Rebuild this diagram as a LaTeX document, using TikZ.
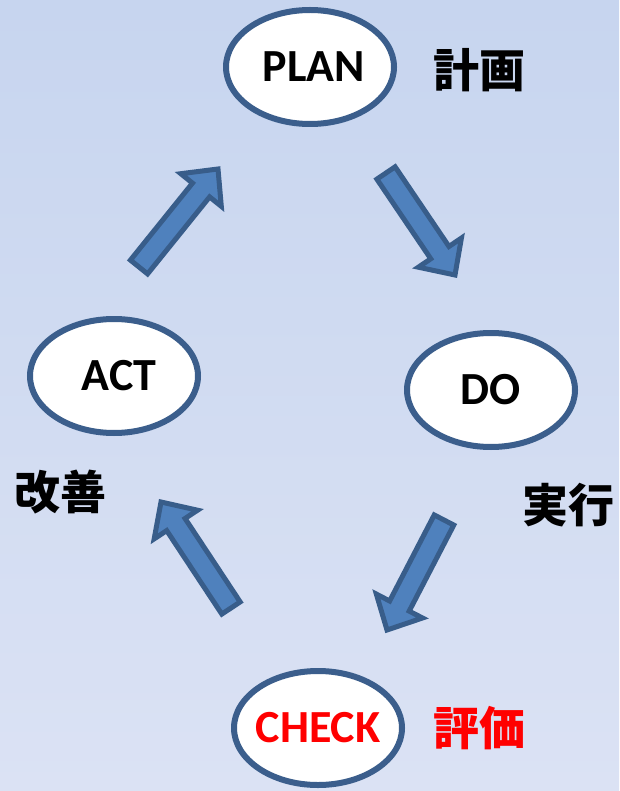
\documentclass[tikz,border=0pt]{standalone}
\usepackage{fontspec}
\setmainfont{Carlito}
\newfontfamily\jpfont{Noto Sans CJK JP}
\usetikzlibrary{calc,shapes.geometric}
\definecolor{bgtop}{RGB}{199,213,239}
\definecolor{bgbot}{RGB}{219,226,244}
\definecolor{ringcol}{RGB}{59,94,140}
\definecolor{arrowfill}{RGB}{79,129,189}
\definecolor{arrowline}{RGB}{56,93,138}
\definecolor{redtext}{RGB}{255,0,0}
\tikzset{
  phase/.style={ellipse, draw=ringcol, line width=6pt, fill=white,
    minimum width=168pt, minimum height=114pt, inner sep=0pt,
    font=\fontsize{46}{52}\selectfont\bfseries},
  jplabel/.style={font=\jpfont\fontsize{46}{52}\selectfont\bfseries, inner sep=0pt},
  blockarrow/.style={fill=arrowfill, draw=arrowline, line width=5pt, line join=miter}
}
% #1 tail centre, #2 tip
\newcommand{\blockarrowdraw}[2]{%
  \path
    coordinate (ba-H) at ($(#2)!27pt!(#1)$)
    coordinate (ba-a1) at ($(#1)!11pt!90:(#2)$)
    coordinate (ba-a2) at ($(#1)!11pt!-90:(#2)$)
    coordinate (ba-h1) at ($(ba-H)!11pt!90:(#2)$)
    coordinate (ba-h2) at ($(ba-H)!11pt!-90:(#2)$)
    coordinate (ba-w1) at ($(ba-H)!26pt!90:(#2)$)
    coordinate (ba-w2) at ($(ba-H)!26pt!-90:(#2)$);
  \draw[blockarrow] (ba-a1) -- (ba-h1) -- (ba-w1) -- (#2) -- (ba-w2) -- (ba-h2) -- (ba-a2) -- cycle;
}
\begin{document}
\begin{tikzpicture}[x=1pt,y=-1pt]
\shade[top color=bgtop, bottom color=bgbot] (0,0) rectangle (619,791);
\useasboundingbox (0,0) rectangle (619,791);

\node[phase] (plan) at (310,67) {\hspace*{8pt}PLAN};
\node[phase] (do) at (491,390) {DO};
\node[phase] (act) at (114,376) {\hspace*{10pt}ACT};
\node[phase, text=redtext, inner xsep=-6pt] (check) at (318,728) {CHECK};

\node[jplabel] (planjp) at (479,70) {計画};
\node[jplabel] (dojp) at (568,505) {実行};
\node[jplabel] (actjp) at (60,492) {改善};
\node[jplabel, text=redtext] (checkjp) at (479,728) {評価};

\coordinate (a1s) at (386,173);
\coordinate (a1e) at (455,275);
\coordinate (a2s) at (139,267);
\coordinate (a2e) at (218,169);
\coordinate (a3s) at (444,520);
\coordinate (a3e) at (387,630);
\coordinate (a4s) at (231,608);
\coordinate (a4e) at (161,502);

\blockarrowdraw{a1s}{a1e}
\blockarrowdraw{a2s}{a2e}
\blockarrowdraw{a3s}{a3e}
\blockarrowdraw{a4s}{a4e}
\end{tikzpicture}
\end{document}
